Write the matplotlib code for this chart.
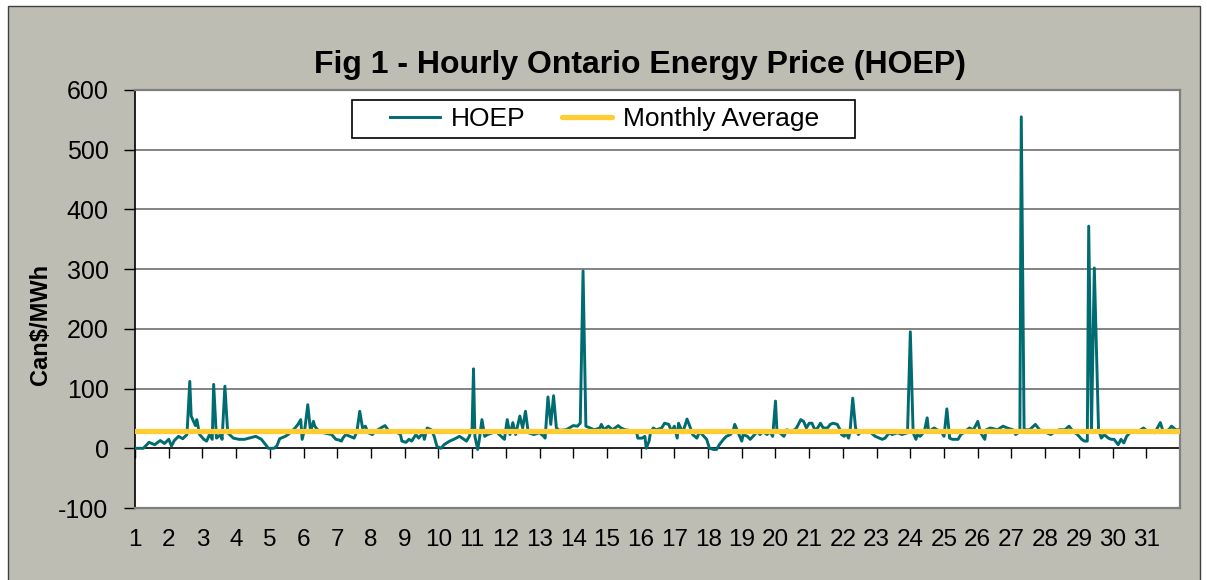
import matplotlib
matplotlib.use("Agg")
import matplotlib.pyplot as plt
from matplotlib.patches import Rectangle

plt.rcParams["font.family"] = ["Liberation Sans", "DejaVu Sans"]
plt.rcParams["axes.unicode_minus"] = False

# hour of month (0 = Jan 1, 00:00) and HOEP price, Can$/MWh
hours = [
    0, 6, 10, 14, 18, 21, 24, 26, 28, 31, 34, 37, 39, 40, 43, 44, 46, 49, 51, 53,
    55, 56, 58, 61, 62, 64, 66, 70, 74, 78, 86, 90, 91, 95, 99, 101, 103, 107, 109, 114,
    116, 118, 119, 121, 123, 125, 127, 128, 131, 136, 140, 143, 145, 147, 148, 150, 153, 156, 158, 160,
    162, 164, 166, 169, 171, 175, 178, 181, 185, 189, 190, 193, 195, 197, 200, 202, 205, 206, 208, 211,
    213, 215, 218, 220, 224, 227, 231, 233, 236, 238, 240, 241, 242, 244, 245, 247, 249, 251, 257, 263,
    265, 267, 269, 271, 274, 276, 278, 280, 284, 288, 291, 292, 294, 296, 298, 300, 302, 307, 312, 315,
    317, 319, 321, 324, 327, 331, 332, 334, 337, 340, 344, 346, 349, 357, 358, 361, 363, 364, 366, 367,
    369, 371, 375, 377, 380, 382, 384, 386, 387, 389, 390, 393, 395, 397, 400, 402, 405, 407, 409, 412,
    414, 416, 419, 421, 424, 426, 427, 430, 431, 432, 433, 436, 438, 440, 443, 445, 447, 450, 452, 454,
    456, 457, 459, 462, 464, 468, 471, 474, 476, 478, 480, 482, 484, 486, 488, 490, 493, 495, 497, 500,
    502, 503, 505, 506, 508, 509, 511, 513, 515, 517, 523, 527, 530, 532, 534, 537, 539, 543, 546, 550,
    552, 554, 556, 557, 559, 562, 564, 565, 569, 571, 574, 576, 578, 580, 582, 586, 588, 590, 594, 597,
    600, 602, 605, 606, 609, 614, 618, 621, 625, 627, 630, 631, 633, 637, 641, 644, 647, 652, 655, 658,
    662, 665, 668, 671, 674, 676, 678, 679, 681, 683, 686, 688, 690, 693, 695, 697, 700, 702, 704, 706,
    709, 714, 718, 721, 726, 730, 732, 736, 738, 741, 743,
]
hoep = [
    0, 0, 10, 6, 13, 8, 15, 4, 13, 20, 16, 23, 112, 54, 38, 48, 23, 15, 12, 23,
    15, 107, 17, 23, 15, 104, 26, 17, 15, 15, 20, 15, 12, 0, 0, 4, 16, 20, 23, 34,
    40, 48, 15, 34, 73, 28, 45, 37, 28, 25, 23, 15, 14, 12, 17, 23, 20, 17, 28, 62,
    34, 37, 26, 23, 28, 34, 38, 28, 29, 23, 12, 10, 15, 12, 23, 17, 26, 15, 34, 31,
    20, 3, 0, 6, 12, 15, 20, 17, 12, 20, 34, 133, 20, -2, 12, 48, 20, 23, 28, 15,
    48, 23, 43, 23, 54, 34, 62, 26, 23, 26, 20, 17, 86, 40, 88, 34, 30, 31, 38, 37,
    42, 297, 37, 34, 31, 34, 40, 31, 37, 31, 38, 34, 31, 28, 17, 17, 20, 0, 12, 26,
    34, 31, 34, 42, 40, 28, 37, 17, 42, 31, 26, 49, 37, 23, 17, 28, 20, 15, 0, -2,
    -2, 6, 15, 20, 23, 31, 40, 23, 17, 12, 23, 20, 15, 20, 28, 23, 28, 23, 28, 20,
    79, 31, 26, 20, 31, 28, 34, 48, 45, 34, 42, 42, 31, 34, 42, 34, 34, 40, 42, 40,
    31, 23, 20, 28, 17, 26, 84, 34, 23, 28, 28, 20, 17, 15, 17, 26, 23, 26, 23, 26,
    195, 26, 15, 23, 20, 28, 51, 28, 34, 31, 28, 20, 66, 17, 15, 15, 23, 26, 34, 31,
    45, 26, 15, 31, 34, 31, 37, 34, 31, 23, 28, 555, 31, 31, 40, 31, 28, 23, 28, 31,
    31, 37, 28, 23, 15, 12, 12, 372, 31, 302, 31, 17, 23, 17, 15, 15, 6, 15, 9, 20,
    28, 28, 34, 28, 26, 43, 28, 31, 37, 31, 31,
]
monthly_avg = 29
days = list(range(1, 32))
hours_in_month = 744

teal = "#006B70"
gold = "#FFCC33"
bg = "#BDBDB4"

fig = plt.figure(figsize=(12.07, 5.80), dpi=100, facecolor="white")
# grey chart area with a thin dark border
fig.patches.append(Rectangle((8 / 1207, -0.02), 1192 / 1207, 1.02 - 6 / 580,
                             transform=fig.transFigure, facecolor=bg,
                             edgecolor="#404040", linewidth=1, zorder=-10))

ax = fig.add_axes([135 / 1207, 1 - 508 / 580, 1045 / 1207, 418 / 580])
ax.set_facecolor("white")

ax.plot(hours, hoep, color=teal, linewidth=2.1, label="HOEP", zorder=3)
ax.axhline(monthly_avg, color=gold, linewidth=3.8, solid_capstyle="round",
           label="Monthly Average", zorder=4)

ax.set_xlim(0, hours_in_month)
ax.set_ylim(-100, 600)
ax.set_yticks(range(-100, 601, 100))
for v in range(100, 600, 100):
    ax.axhline(v, color="#6E6E6E", linewidth=1.2, zorder=1)

day_starts = [24 * (d - 1) for d in days]
ax.set_xticks(day_starts)
ax.set_xticklabels([str(d) for d in days], fontsize=17.5)
ax.tick_params(axis="x", length=0, pad=15)
ax.tick_params(axis="y", direction="out", length=8, width=1, pad=11, labelsize=18)

for side in ["top", "right", "bottom"]:
    ax.spines[side].set_color("#7F7F7F")
    ax.spines[side].set_linewidth(1.6)
ax.spines["left"].set_color("black")
ax.spines["left"].set_linewidth(1.2)

# category axis drawn at zero, ticks pointing down
zero_axis = ax.secondary_xaxis(100 / 700)
zero_axis.set_xticks(day_starts)
zero_axis.tick_params(direction="out", length=7, width=1, labelbottom=False)
zero_axis.spines["bottom"].set_color("black")
zero_axis.spines["bottom"].set_linewidth(1.2)

fig.text(640 / 1207, 1 - 73 / 580, "Fig 1 - Hourly Ontario Energy Price (HOEP)",
         ha="center", va="baseline", fontsize=23, fontweight="bold")
fig.text(40 / 1207, 1 - 324 / 580, "Can$/MWh", rotation=90, ha="center",
         va="center", fontsize=17, fontweight="bold")

# legend box drawn by hand so it can be wider than the entries
ax.add_patch(Rectangle((217 / 1045, 370 / 418), 503 / 1045, 38 / 418,
                       transform=ax.transAxes, facecolor="white",
                       edgecolor="black", linewidth=1.2, zorder=5))
leg = ax.legend(loc="center left", bbox_to_anchor=(255 / 1045, 389 / 418), ncol=2,
                fontsize=19, frameon=False, borderaxespad=0, borderpad=0,
                handlelength=1.9, handletextpad=0.4, columnspacing=1.4)
leg.set_zorder(6)

fig.savefig("out.png", dpi=100, facecolor=fig.get_facecolor())
